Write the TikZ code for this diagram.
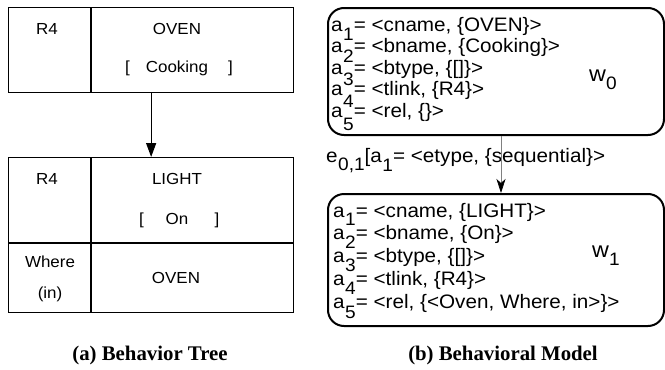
\documentclass[tikz,border=0pt]{standalone}
\usepackage{fontspec}
\setmainfont{Liberation Sans}
\newfontfamily\sfw{Liberation Sans}[FakeStretch=1.06]
\newfontfamily\capfont{Liberation Serif}
\usetikzlibrary{arrows.meta}
\newcommand\sbx[2]{\hspace{0.5pt}\raisebox{-#1}[0pt][0pt]{\fontsize{18pt}{18pt}\selectfont #2}}
\begin{document}
\begin{tikzpicture}[x=1pt,y=-1pt,
  lt/.style={font=\sfw\fontsize{16pt}{18pt}\selectfont, inner sep=0pt, anchor=base},
  attr/.style={font=\sfw\fontsize{19.5pt}{21pt}\selectfont, inner sep=0pt, anchor=base west},
  wlab/.style={font=\sfw\fontsize{22pt}{22pt}\selectfont, inner sep=0pt, anchor=base west},
  captext/.style={font=\capfont\bfseries\fontsize{20.8pt}{22pt}\selectfont, inner sep=0pt, anchor=base},
  tbox/.style={draw, line width=1.3pt, inner sep=0pt, anchor=north west},
  tline/.style={line width=1.3pt},
  wbox/.style={draw, line width=2pt, rounded corners=16pt, inner sep=0pt, anchor=north west}]
\useasboundingbox (0,0) rectangle (665,370);

% ---------- (a) Behavior Tree ----------
\node[tbox, minimum width=285pt, minimum height=85pt] (bt1) at (8,7) {};
\draw[tline] (91,7) -- (91,92);
\node[tbox, minimum width=285pt, minimum height=155pt] (bt2) at (8,157) {};
\draw[tline] (91,157) -- (91,312);
\draw[tline] (8,243) -- (293,243);
\draw[tline, -{Triangle[width=10pt,length=14pt]}] (bt1.south) -- (bt2.north);

\node[lt] (r4a) at (47,34) {R4};
\node[lt] (oven1) at (177,34) {OVEN};
\node[lt] (lb1) at (127.5,72.5) {[};
\node[lt] (cook) at (177,72.5) {Cooking};
\node[lt] (rb1) at (230.5,72.5) {]};
\node[lt] (r4b) at (47,184) {R4};
\node[lt] (light) at (177,184) {LIGHT};
\node[lt] (lb2) at (141.5,224) {[};
\node[lt] (on) at (177,224) {On};
\node[lt] (rb2) at (217,224) {]};
\node[lt] (where) at (50,267) {Where};
\node[lt] (in) at (50,298) {(in)};
\node[lt] (oven2) at (176,283) {OVEN};

% ---------- (b) Behavioral Model ----------
\node[wbox, minimum width=336pt, minimum height=127pt] (w0) at (327,7) {};
\node[wbox, minimum width=336pt, minimum height=132pt] (w1) at (327,193) {};

\node[attr] (w0a1) at (331,31)    {a\sbx{9pt}{1}= <cname, \{OVEN\}>};
\node[attr] (w0a2) at (331,52.5)  {a\sbx{10pt}{2}= <bname, \{Cooking\}>};
\node[attr] (w0a3) at (331,74)    {a\sbx{11pt}{3}= <btype, \{[]\}>};
\node[attr] (w0a4) at (331,95.5)  {a\sbx{12pt}{4}= <tlink, \{R4\}>};
\node[attr] (w0a5) at (331,117)   {a\sbx{13pt}{5}= <rel, \{\}>};
\node[wlab] (w0l) at (589,81) {w\raisebox{-8pt}{\fontsize{18pt}{18pt}\selectfont 0}};

\node[attr] (elab) at (326,162) {e\sbx{8pt}{0,1}[a\sbx{9pt}{1}= <etype, \{sequential\}>};

\node[attr] (w1a1) at (333,217)    {a\sbx{8pt}{1}= <cname, \{LIGHT\}>};
\node[attr] (w1a2) at (333,239.75) {a\sbx{8.5pt}{2}= <bname, \{On\}>};
\node[attr] (w1a3) at (333,262.5)  {a\sbx{9pt}{3}= <btype, \{[]\}>};
\node[attr] (w1a4) at (333,285.25) {a\sbx{9.5pt}{4}= <tlink, \{R4\}>};
\node[attr] (w1a5) at (333,308)    {a\sbx{10pt}{5}= <rel, \{<Oven, Where, in>\}>};
\node[wlab] (w1l) at (592,257) {w\raisebox{-8pt}{\fontsize{18pt}{18pt}\selectfont 1}};

\draw[gray, line width=0.7pt, -{Stealth[width=9pt,length=14pt,inset=4pt,black]}] ([xshift=5pt]w0.south) -- ([xshift=5pt]w1.north);

% ---------- captions ----------
\node[captext] (capa) at (150,360) {(a) Behavior Tree};
\node[captext] (capb) at (503,360) {(b) Behavioral Model};
\end{tikzpicture}
\end{document}
